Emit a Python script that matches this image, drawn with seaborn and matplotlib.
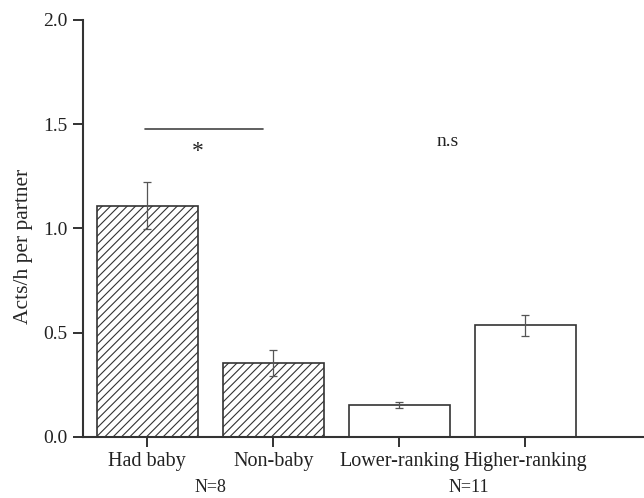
import matplotlib
matplotlib.use("Agg")
import matplotlib.pyplot as plt
import seaborn as sns
import pandas as pd

# Mean interaction rate per partner and its standard error
categories = ["Had baby", "Non-baby", "Lower-ranking", "Higher-ranking"]
means = [1.11, 0.355, 0.152, 0.535]
errors = [0.112, 0.062, 0.015, 0.051]
group_labels = ["N=8", "N=11"]
yticks = [0.0, 0.5, 1.0, 1.5, 2.0]

hatches = ["////", "////", "", ""]

sns.set_theme(style="ticks")
plt.rcParams["font.family"] = ["Liberation Serif", "DejaVu Serif"]
plt.rcParams["hatch.color"] = "#9a9a9a"
plt.rcParams["hatch.linewidth"] = 0.8

df = pd.DataFrame({"group": categories, "rate": means})

fig = plt.figure(figsize=(6.44, 4.98), dpi=100)
ax = fig.add_axes([0.129, 0.1225, 0.871, 0.8375])

sns.barplot(data=df, x="group", y="rate", order=categories, color="white",
            edgecolor="#333333", linewidth=1.2, width=0.8, errorbar=None,
            saturation=1, ax=ax)
for patch, h in zip(ax.patches, hatches):
    patch.set_hatch(h)
    patch.set_facecolor("white")

ax.errorbar(range(len(categories)), means, yerr=errors, fmt="none",
            ecolor="#555555", elinewidth=0.9, capsize=3, capthick=0.9)

ax.set_xlim(-0.508, 3.94)
ax.set_ylim(0, 2.0)
ax.set_yticks(yticks)
ax.set_yticklabels([f"{v:.1f}" for v in yticks])
ax.set_xlabel("")
ax.set_ylabel("Acts/h per partner", fontsize=15.5)
ax.yaxis.set_label_coords(-0.089, 0.456)

sns.despine(ax=ax)
for side in ("left", "bottom"):
    ax.spines[side].set_linewidth(1.5)
    ax.spines[side].set_color("#333333")
ax.tick_params(axis="both", colors="#222222", width=1.3,
               length=7, direction="out", pad=4)
ax.tick_params(axis="y", labelsize=14)
ax.tick_params(axis="x", labelsize=14.5)

# Significance annotations
ax.plot([-0.016, 0.92], [1.477, 1.477], color="#444444", lw=1.2)
ax.text(0.405, 1.37, "*", ha="center", va="center", fontsize=17,
        color="#222222")
ax.text(2.38, 1.415, "n.s", ha="center", va="center", fontsize=14, color="#222222")

# Sample-size labels beneath each pair
trans = ax.get_xaxis_transform()
ax.text(0.5, -0.122, group_labels[0], transform=trans, ha="center", va="center",
        fontsize=13, color="#222222")
ax.text(2.55, -0.122, group_labels[1], transform=trans, ha="center", va="center",
        fontsize=13, color="#222222")

fig.savefig("out.png", dpi=100)
